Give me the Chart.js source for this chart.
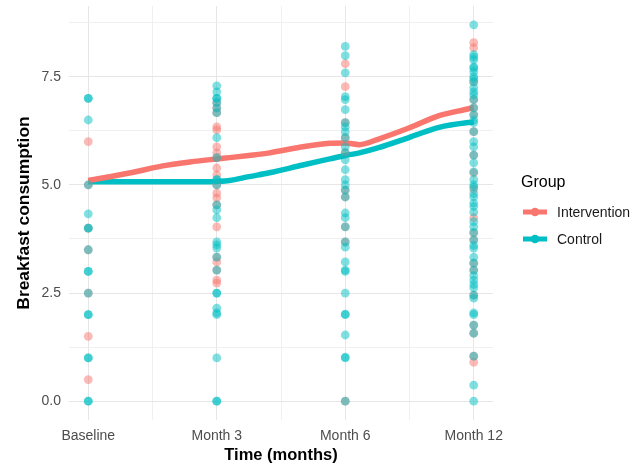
<!DOCTYPE html>
<html>
<head>
<meta charset="utf-8">
<script src="https://cdn.jsdelivr.net/npm/chart.js@4/dist/chart.umd.min.js"></script>
<style>
  html, body { margin: 0; padding: 0; background: #ffffff; }
  #wrap { width: 644px; height: 467px; }
</style>
</head>
<body>
<div id="wrap"><canvas id="chart" width="644" height="467"></canvas></div>
<script>
// Time points on the x axis (positions 1..4)
const timeLabels = ['Baseline', 'Month 3', 'Month 6', 'Month 12'];
const groupNames = ['Intervention', 'Control'];
const legendTitle = 'Group';
const xTitle = 'Time (months)';
const yTitle = 'Breakfast consumption';

// Axis ticks (major labelled, minor unlabelled)
const xTickValues = [1, 1.5, 2, 2.5, 3, 3.5, 4];
const yTickValues = [0, 1.25, 2.5, 3.75, 5, 6.25, 7.5, 8.75];
const yTickLabels = { 0: '0.0', 2.5: '2.5', 5: '5.0', 7.5: '7.5' };

// Individual observations, Intervention group
const intBaseline = [6.0, 5.0, 4.0, 3.5, 2.5, 1.5, 0.5];
const intMonth3 = [6.9, 6.78, 6.67, 6.34, 6.27, 5.88, 5.74, 5.63, 5.39, 5.23, 5.0, 4.81, 4.70, 4.54,
                   4.03, 3.33, 3.22, 3.03, 2.80, 2.73];
const intMonth6 = [7.8, 7.27, 6.44, 6.09, 5.75, 4.88, 4.72, 4.03, 3.68, 0];
const intMonth12 = [8.29, 8.17, 7.38, 6.97, 6.78, 6.62, 6.23, 5.69, 5.28, 4.9, 4.24, 3.89, 3.73,
                    3.19, 3.03, 2.45, 1.76, 1.57, 1.04, 0.9];

// Individual observations, Control group
const ctlBaseline = [7.0, 7.0, 6.5, 5.0, 4.33, 4.0, 4.0, 3.5, 3.0, 3.0, 2.5, 2.0, 2.0, 1.0, 1.0, 0, 0];
const ctlMonth3 = [7.29, 7.15, 7.0, 7.0, 6.9, 6.78, 6.67, 6.09, 5.63, 5.12, 5.12, 5.0, 4.54, 4.42,
                   4.24, 3.68, 3.61, 3.54, 3.33, 3.03, 2.5, 2.5, 2.15, 2.04, 2.0, 1.0, 0, 0];
const ctlMonth6 = [8.2, 7.99, 7.59, 7.04, 6.97, 6.74, 6.44, 6.34, 6.23, 6.09, 5.88, 5.74, 5.58, 5.35,
                   5.12, 5.0, 4.88, 4.72, 4.35, 4.24, 4.03, 3.68, 3.56, 3.22, 3.03, 3.0, 2.5, 2.01,
                   2.0, 1.53, 1.02, 1.0, 0];
const ctlMonth12 = [8.7, 8.01, 7.95, 7.89, 7.73, 7.7, 7.62, 7.5, 7.45, 7.38, 7.25, 7.15, 7.08, 6.97,
                    6.78, 6.62, 6.5, 6.44, 6.23, 6.0, 5.88, 5.69, 5.51, 5.3, 5.12, 5.0, 4.95, 4.8,
                    4.72, 4.58, 4.5, 4.37, 4.15, 4.03, 3.9, 3.73, 3.6, 3.54, 3.33, 3.19, 3.03, 2.9,
                    2.80, 2.7, 2.62, 2.45, 2.38, 2.04, 2.0, 1.76, 1.57, 1.04, 0.37, 0];

// Smoothed group trends
const smoothX = [1, 1.33, 1.58, 1.79, 2.0, 2.1, 2.25, 2.41, 2.67, 2.88, 3.0, 3.11, 3.26, 3.5, 3.73, 3.96, 4.0];
const intSmooth = [5.10, 5.28, 5.44, 5.53, 5.60, 5.63, 5.68, 5.74, 5.88, 5.96, 5.97, 5.93, 6.06, 6.32, 6.60, 6.76, 6.79];
const ctlSmooth = [5.07, 5.07, 5.07, 5.07, 5.08, 5.10, 5.19, 5.28, 5.46, 5.60, 5.68, 5.74, 5.86, 6.10, 6.33, 6.44, 6.45];

const groupColors = ['#F8766D', '#00BFC4'];
const groupFills = ['rgba(248,118,109,0.5)', 'rgba(0,191,196,0.5)'];

const FONT = '"Liberation Sans", Arial, Helvetica, sans-serif';

function toPoints(columns) {
  return columns.flatMap((vals, i) => vals.map(v => ({ x: i + 1, y: v })));
}
function toLine(xs, ys) {
  return xs.map((x, i) => ({ x: x, y: ys[i] }));
}

// Legend drawn to the right of the panel: title, then a line+dot key per group
const groupLegend = {
  id: 'groupLegend',
  afterDraw(chart) {
    const ctx = chart.ctx;
    ctx.save();
    ctx.textBaseline = 'middle';
    ctx.textAlign = 'left';
    ctx.fillStyle = '#000000';
    ctx.font = '16px ' + FONT;
    ctx.fillText(legendTitle, 521, 183);
    const rows = [212, 239];
    groupNames.forEach((name, i) => {
      const y = rows[i];
      ctx.strokeStyle = groupColors[i];
      ctx.lineWidth = 5;
      ctx.lineCap = 'butt';
      ctx.beginPath();
      ctx.moveTo(523, y);
      ctx.lineTo(547, y);
      ctx.stroke();
      ctx.fillStyle = groupColors[i];
      ctx.beginPath();
      ctx.arc(535, y, 4.3, 0, Math.PI * 2);
      ctx.fill();
      ctx.fillStyle = '#1a1a1a';
      ctx.font = '14px ' + FONT;
      ctx.fillText(name, 557, y + 1);
    });
    ctx.restore();
  }
};

// Lower "order" is painted later (on top): control points over intervention points,
// both over the trend lines.
new Chart(document.getElementById('chart'), {
  type: 'scatter',
  data: {
    datasets: [
      {
        label: groupNames[0],
        data: toPoints([intBaseline, intMonth3, intMonth6, intMonth12]),
        backgroundColor: groupFills[0],
        borderWidth: 0,
        pointRadius: 4.4,
        order: 1
      },
      {
        label: groupNames[1],
        data: toPoints([ctlBaseline, ctlMonth3, ctlMonth6, ctlMonth12]),
        backgroundColor: groupFills[1],
        borderWidth: 0,
        pointRadius: 4.4,
        order: 0
      },
      {
        label: groupNames[0] + ' trend',
        data: toLine(smoothX, intSmooth),
        showLine: true,
        borderColor: groupColors[0],
        borderWidth: 5.5,
        pointRadius: 0,
        cubicInterpolationMode: 'monotone',
        order: 2
      },
      {
        label: groupNames[1] + ' trend',
        data: toLine(smoothX, ctlSmooth),
        showLine: true,
        borderColor: groupColors[1],
        borderWidth: 5.5,
        pointRadius: 0,
        cubicInterpolationMode: 'monotone',
        order: 2
      }
    ]
  },
  options: {
    responsive: false,
    animation: false,
    events: [],
    devicePixelRatio: 1,
    layout: { padding: { left: 0, right: 151, top: 6, bottom: 0 } },
    plugins: {
      legend: { display: false },
      tooltip: { enabled: false },
      title: { display: false }
    },
    scales: {
      x: {
        type: 'linear',
        min: 0.85,
        max: 4.15,
        afterBuildTicks: (scale) => { scale.ticks = xTickValues.map(v => ({ value: v })); },
        afterFit: (scale) => {
          scale.height = 47;
          scale.paddingLeft = 0;
          scale.paddingRight = 0;
        },
        grid: {
          color: (c) => (c.tick && Number.isInteger(c.tick.value)) ? '#E6E6E6' : '#F0F0F0',
          lineWidth: 1,
          drawTicks: false
        },
        border: { display: false },
        ticks: {
          autoSkip: false,
          maxRotation: 0,
          padding: 8,
          color: '#4D4D4D',
          font: { family: FONT, size: 14 },
          callback: (v) => Number.isInteger(v) ? timeLabels[v - 1] : ''
        },
        title: {
          display: true,
          text: xTitle,
          color: '#000000',
          font: { family: FONT, size: 16.5, weight: 'bold' },
          padding: { top: 0, bottom: 2 }
        }
      },
      y: {
        type: 'linear',
        min: -0.435,
        max: 9.135,
        afterBuildTicks: (scale) => { scale.ticks = yTickValues.map(v => ({ value: v })); },
        afterFit: (scale) => {
          scale.width = 69;
          scale.paddingTop = 0;
          scale.paddingBottom = 0;
        },
        grid: {
          color: (c) => (c.tick && (c.tick.value in yTickLabels)) ? '#E6E6E6' : '#F0F0F0',
          lineWidth: 1,
          drawTicks: false
        },
        border: { display: false },
        ticks: {
          autoSkip: false,
          padding: 8,
          color: '#4D4D4D',
          font: { family: FONT, size: 14 },
          callback: (v) => (v in yTickLabels) ? yTickLabels[v] : ''
        },
        title: {
          display: true,
          text: yTitle,
          color: '#000000',
          font: { family: FONT, size: 17.4, weight: 'bold' },
          padding: { top: 14, bottom: 0 }
        }
      }
    }
  },
  plugins: [groupLegend]
});
</script>
</body>
</html>
